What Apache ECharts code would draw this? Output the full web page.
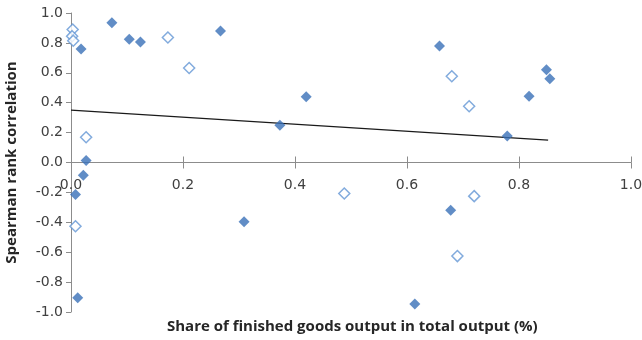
<!DOCTYPE html>
<html>
<head>
<meta charset="utf-8">
<script src="https://cdn.jsdelivr.net/npm/echarts@6/dist/echarts.min.js"></script>
<style>
  html, body { margin: 0; padding: 0; background: #fff; }
  #chart { width: 642px; height: 340px; }
</style>
</head>
<body>
<div id="chart"></div>
<script>
// Filled markers: [share of finished goods output, Spearman rank correlation]
const filledX = [0.073, 0.104, 0.124, 0.018, 0.027, 0.267, 0.420, 0.373, 0.022, 0.008, 0.012, 0.309, 0.614, 0.658, 0.849, 0.855, 0.818, 0.779, 0.678];
const filledY = [0.935, 0.824, 0.806, 0.760, 0.013, 0.880, 0.440, 0.250, -0.085, -0.214, -0.905, -0.397, -0.947, 0.780, 0.620, 0.560, 0.443, 0.178, -0.319];

// Hollow markers
const hollowX = [0.003, 0.002, 0.004, 0.173, 0.211, 0.027, 0.008, 0.488, 0.680, 0.711, 0.720, 0.690];
const hollowY = [0.890, 0.845, 0.815, 0.836, 0.632, 0.169, -0.426, -0.207, 0.577, 0.376, -0.225, -0.626];

// Linear trend line end points
const trendX = [0.0, 0.852];
const trendY = [0.350, 0.149];

const xTitle = 'Share of finished goods output in total output (%)';
const yTitle = 'Spearman rank correlation';

const pair = (xs, ys) => xs.map((x, i) => [x, ys[i]]);

const GRID_TOP = 13, GRID_BOTTOM = 28, HEIGHT = 340;
// the y range is symmetric, so the zero line sits half-way up the grid
const zeroOffset = -(HEIGHT - GRID_TOP - GRID_BOTTOM) / 2;

const axisGray = '#8c8c8c';
const labelFont = { fontFamily: 'DejaVu Sans', fontSize: 14, color: '#404040' };
const titleFont = { fontFamily: 'Open Sans', fontWeight: 'bold', fontSize: 15, color: '#262626' };

const chart = echarts.init(document.getElementById('chart'), null, { renderer: 'canvas' });
chart.setOption({
  animation: false,
  backgroundColor: '#ffffff',
  grid: { left: 71, right: 11, top: GRID_TOP, bottom: GRID_BOTTOM, containLabel: false, outerBoundsMode: 'none' },
  title: {
    text: xTitle,
    left: 162,
    top: 314,
    textStyle: titleFont
  },
  xAxis: [
    {
      type: 'value', min: 0, max: 1, interval: 0.2,
      position: 'bottom', offset: zeroOffset,
      axisLine: { show: true, onZero: false, lineStyle: { color: axisGray, width: 1 } },
      axisTick: { show: true, length: 6, lineStyle: { color: axisGray } },
      axisLabel: Object.assign({ margin: 16, formatter: v => v.toFixed(1) }, labelFont),
      splitLine: { show: false }
    },
    {
      type: 'value', min: 0, max: 1, interval: 0.2,
      position: 'bottom', offset: zeroOffset,
      axisLine: { show: false, onZero: false },
      axisTick: { show: true, inside: true, length: 6, lineStyle: { color: axisGray } },
      axisLabel: { show: false },
      splitLine: { show: false }
    }
  ],
  yAxis: {
    type: 'value', min: -1, max: 1, interval: 0.2,
    name: yTitle,
    nameLocation: 'middle',
    nameGap: 52,
    nameTextStyle: titleFont,
    axisLine: { show: true, onZero: false, lineStyle: { color: axisGray, width: 1 } },
    axisTick: { show: true, length: 5, lineStyle: { color: axisGray } },
    axisLabel: Object.assign({ margin: 8, formatter: v => v.toFixed(1) }, labelFont),
    splitLine: { show: false }
  },
  series: [
    {
      name: 'trend', type: 'line', data: pair(trendX, trendY),
      symbol: 'none', lineStyle: { color: '#1a1a1a', width: 1.3 }, z: 1, silent: true
    },
    {
      name: 'hollow', type: 'scatter', data: pair(hollowX, hollowY),
      symbol: 'diamond', symbolSize: [11, 11],
      itemStyle: { color: '#ffffff', borderColor: '#6396d4', borderWidth: 1.5 }, z: 3
    },
    {
      name: 'filled', type: 'scatter', data: pair(filledX, filledY),
      symbol: 'diamond', symbolSize: [11, 11],
      itemStyle: { color: '#3a70b8', borderColor: '#3a70b8', borderWidth: 0 }, z: 4
    }
  ]
});
</script>
</body>
</html>
